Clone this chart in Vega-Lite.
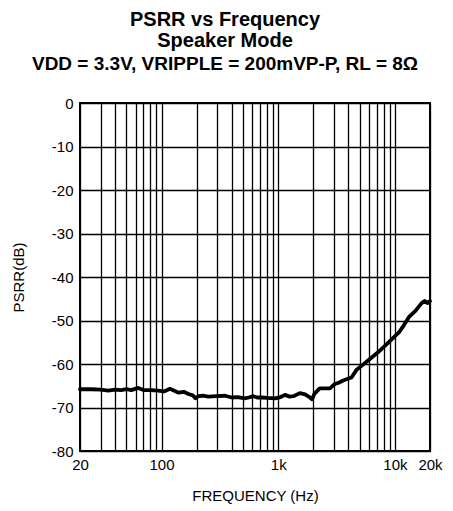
{
  "$schema": "https://vega.github.io/schema/vega-lite/v6.json",
  "width": 350,
  "height": 348,
  "autosize": "none",
  "padding": {"left": 80, "top": 103, "right": 23, "bottom": 60},
  "background": "white",
  "config": {
    "font": "Liberation Sans",
    "view": {"stroke": "black", "strokeWidth": 2},
    "axis": {"domain": false, "ticks": false, "labelFont": "Liberation Sans", "labelFontSize": 15, "labelColor": "black", "titleFont": "Liberation Sans", "titleFontSize": 15, "titleFontWeight": "normal", "titleColor": "black", "gridColor": "black", "gridOpacity": 1, "gridWidth": 1.3}
  },
  "title": {
    "text": ["PSRR vs Frequency", "Speaker Mode"],
    "subtitle": "VDD = 3.3V, VRIPPLE = 200mVP-P, RL = 8Ω",
    "font": "Liberation Sans",
    "fontSize": 20,
    "fontWeight": "bold",
    "lineHeight": 21,
    "color": "black",
    "subtitleFont": "Liberation Sans",
    "subtitleFontSize": 19,
    "subtitleFontWeight": "bold",
    "subtitleColor": "black",
    "subtitlePadding": 4,
    "anchor": "middle",
    "dx": -30,
    "offset": 22
  },
  "data": {
    "values": [
      {"f": 20, "db": -65.8}, {"f": 25, "db": -65.8}, {"f": 30, "db": -65.9}, {"f": 35, "db": -66.1},
      {"f": 40, "db": -65.9}, {"f": 45, "db": -66.0}, {"f": 50, "db": -65.8}, {"f": 55, "db": -66.0},
      {"f": 63, "db": -65.5}, {"f": 70, "db": -66.0}, {"f": 80, "db": -66.0}, {"f": 93, "db": -66.1},
      {"f": 105, "db": -66.3}, {"f": 118, "db": -65.7}, {"f": 130, "db": -66.2}, {"f": 140, "db": -66.6},
      {"f": 155, "db": -66.4}, {"f": 170, "db": -66.9}, {"f": 185, "db": -67.2}, {"f": 195, "db": -67.9},
      {"f": 206, "db": -67.4}, {"f": 230, "db": -67.3}, {"f": 251, "db": -67.5}, {"f": 300, "db": -67.4},
      {"f": 350, "db": -67.3}, {"f": 400, "db": -67.7}, {"f": 450, "db": -67.6}, {"f": 516, "db": -67.9},
      {"f": 560, "db": -67.7}, {"f": 610, "db": -67.4}, {"f": 660, "db": -67.7}, {"f": 721, "db": -67.7},
      {"f": 800, "db": -67.8}, {"f": 938, "db": -67.9}, {"f": 1050, "db": -67.6}, {"f": 1142, "db": -67.1},
      {"f": 1250, "db": -67.5}, {"f": 1350, "db": -67.4}, {"f": 1535, "db": -66.7}, {"f": 1700, "db": -67.0},
      {"f": 1850, "db": -67.6}, {"f": 1950, "db": -68.1}, {"f": 2050, "db": -66.8}, {"f": 2266, "db": -65.6},
      {"f": 2773, "db": -65.6}, {"f": 3058, "db": -64.6}, {"f": 3300, "db": -64.3}, {"f": 3604, "db": -63.8},
      {"f": 4244, "db": -63.1}, {"f": 4678, "db": -61.4}, {"f": 5300, "db": -60.2}, {"f": 6066, "db": -58.9},
      {"f": 7390, "db": -57.0}, {"f": 8300, "db": -55.7}, {"f": 9240, "db": -54.5}, {"f": 10940, "db": -52.6},
      {"f": 12000, "db": -51.0}, {"f": 13300, "db": -49.1}, {"f": 15000, "db": -47.8}, {"f": 16950, "db": -46.0},
      {"f": 18000, "db": -45.5}, {"f": 19000, "db": -46.0}, {"f": 20000, "db": -45.5}
    ]
  },
  "mark": {"type": "line", "color": "black", "strokeWidth": 3.8, "strokeJoin": "round", "strokeCap": "round"},
  "encoding": {
    "x": {
      "field": "f", "type": "quantitative",
      "scale": {"type": "log", "domain": [20, 20000], "nice": false},
      "axis": {
        "title": "FREQUENCY (Hz)",
        "titlePadding": 16,
        "labelPadding": 6,
        "values": [20, 30, 40, 50, 60, 70, 80, 90, 100, 200, 300, 400, 500, 600, 700, 800, 900, 1000, 2000, 3000, 4000, 5000, 6000, 7000, 8000, 9000, 10000, 20000],
        "labelExpr": "indexof([20, 100, 1000, 10000, 20000], datum.value) >= 0 ? (datum.value >= 1000 ? (datum.value / 1000) + 'k' : '' + datum.value) : ''",
        "labelFlush": false,
        "labelOverlap": false,
        "grid": true
      }
    },
    "y": {
      "field": "db", "type": "quantitative",
      "scale": {"domain": [-80, 0], "nice": false},
      "axis": {
        "title": "PSRR(dB)",
        "titlePadding": 25,
        "labelPadding": 7,
        "values": [-80, -70, -60, -50, -40, -30, -20, -10, 0],
        "labelExpr": "'' + datum.value",
        "grid": true
      }
    }
  }
}
